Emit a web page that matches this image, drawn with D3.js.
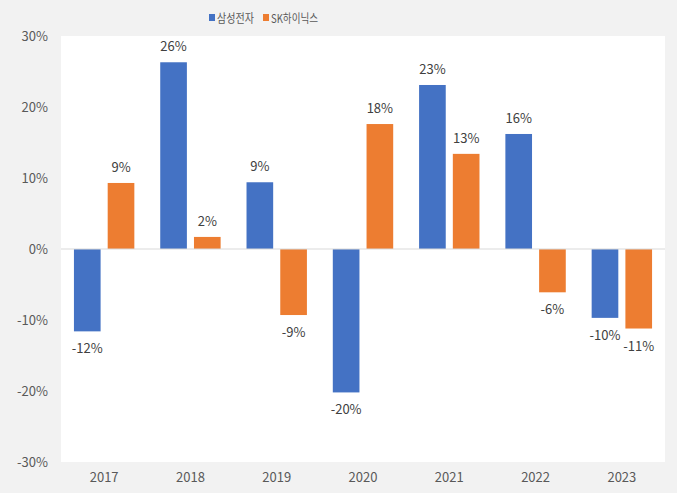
<!DOCTYPE html>
<html><head><meta charset="utf-8">
<script src="https://cdn.jsdelivr.net/npm/d3@7"></script>
<style>body{margin:0;background:#f2f2f2;}svg{display:block;}</style>
</head><body>
<svg id="c" width="677" height="493"></svg>
<script>
const years = ["2017","2018","2019","2020","2021","2022","2023"];
const seriesNames = ["삼성전자","SK하이닉스"];
const samsung = [-11.6, 26.3, 9.4, -20.2, 23.1, 16.2, -9.7];
const hynix = [9.3, 1.7, -9.3, 17.6, 13.4, -6.1, -11.2];
const samsungLabels = ["-12%","26%","9%","-20%","23%","16%","-10%"];
const hynixLabels = ["9%","2%","-9%","18%","13%","-6%","-11%"];
const yTicks = [-30,-20,-10,0,10,20,30];
const colors = ["#4472c4","#ed7d31"];

const svg = d3.select("#c");
const font = "'Noto Sans CJK KR', 'Noto Sans', sans-serif";
const L = 61, R = 665, T = 36, B = 462;

svg.append("rect").attr("width",677).attr("height",493).attr("fill","#f2f2f2");
svg.append("rect").attr("x",L).attr("y",T).attr("width",R-L).attr("height",B-T).attr("fill","#ffffff");

const y = d3.scaleLinear().domain([-30,30]).range([B,T]);
const x0 = d3.scaleBand().domain(years).range([L,R]).paddingInner(0.3).paddingOuter(0.15);
const x1 = d3.scaleBand().domain(seriesNames).range([0,x0.bandwidth()]).paddingInner(0.21);

// y axis labels
const yAxis = d3.axisLeft(y).tickValues(yTicks).tickSize(0).tickPadding(13).tickFormat(d=>d+"%");
const ya = svg.append("g").attr("transform",`translate(${L},0)`).call(yAxis);
ya.select(".domain").remove();
ya.selectAll("text").attr("font-family",font).attr("font-size",13).attr("fill","#595959");

// x axis labels
const xAxis = d3.axisBottom(x0).tickSize(0).tickPadding(11);
const xa = svg.append("g").attr("transform",`translate(0,${B})`).call(xAxis);
xa.select(".domain").remove();
xa.selectAll("text").attr("font-family",font).attr("font-size",13).attr("fill","#595959");

const data = years.map((yr,i)=>({year:yr, vals:[
  {s:seriesNames[0], v:samsung[i], lab:samsungLabels[i], c:colors[0]},
  {s:seriesNames[1], v:hynix[i], lab:hynixLabels[i], c:colors[1]}]}));

const g = svg.selectAll("g.grp").data(data).enter().append("g")
  .attr("transform",d=>`translate(${x0(d.year)},0)`);
g.selectAll("rect").data(d=>d.vals).enter().append("rect")
  .attr("x",d=>x1(d.s)).attr("width",x1.bandwidth())
  .attr("y",d=>y(Math.max(0,d.v))).attr("height",d=>Math.abs(y(d.v)-y(0)))
  .attr("fill",d=>d.c);

// zero line
svg.append("line").attr("x1",L).attr("x2",R).attr("y1",y(0)).attr("y2",y(0))
  .attr("stroke","#d9d9d9").attr("stroke-width",1);

g.selectAll("text").data(d=>d.vals).enter().append("text")
  .attr("x",d=>x1(d.s)+x1.bandwidth()/2)
  .attr("y",d=>d.v>=0 ? y(d.v)-11 : y(d.v)+22)
  .attr("text-anchor","middle").attr("font-family",font).attr("font-size",13)
  .attr("fill","#404040").text(d=>d.lab);

// legend
const leg = svg.append("g").attr("transform","translate(209,13)");
const items = [{n:seriesNames[0],c:colors[0],x:0,w:37},{n:seriesNames[1],c:colors[1],x:54,w:47}];
items.forEach(it=>{
  leg.append("rect").attr("x",it.x).attr("y",1).attr("width",6).attr("height",7).attr("fill",it.c);
  leg.append("text").attr("x",it.x+8).attr("y",10).attr("font-family",font).attr("font-size",12)
    .attr("textLength",it.w).attr("lengthAdjust","spacingAndGlyphs")
    .attr("fill","#595959").text(it.n);
});
</script>
</body></html>
